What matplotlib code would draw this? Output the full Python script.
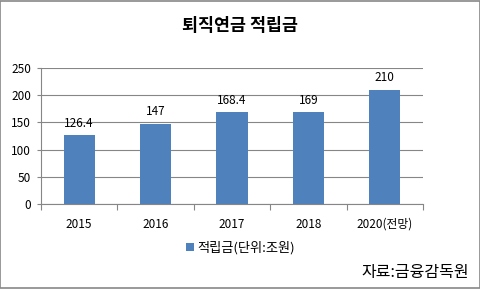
import numpy as np
import matplotlib.pyplot as plt
from matplotlib.patches import Rectangle

plt.rcParams['font.family'] = ['Noto Sans CJK KR', 'DejaVu Sans']

# Data
categories = ['2015', '2016', '2017', '2018', '2020(전망)']
values = [126.4, 147, 168.4, 169, 210]
value_labels = ['126.4', '147', '168.4', '169', '210']

fig = plt.figure(figsize=(4.81, 2.89), dpi=100)
ax = fig.add_axes([0.0852, 0.2941, 0.7942, 0.4706])

x = np.arange(len(categories))
bars = ax.bar(x, values, width=0.41, color='#4F81BD', label='적립금(단위:조원)', zorder=3)

# Value labels above bars
for xi, v, lab in zip(x, values, value_labels):
    ax.annotate(lab, (xi, v), xytext=(0, 4), textcoords='offset points',
                ha='center', va='bottom', fontsize=8.5)

ax.set_xlim(-0.5, len(categories) - 0.5)
ax.set_ylim(0, 250)
ax.set_yticks(np.arange(0, 251, 50))
ax.yaxis.grid(True, color='#868686', linewidth=0.8, zorder=0)

# Excel style ticks between categories
ax.set_xticks(np.arange(-0.5, len(categories)), minor=False)
ax.set_xticklabels([])
ax.set_xticks(x, minor=True)
ax.set_xticklabels(categories, minor=True, fontsize=8.5)
ax.tick_params(axis='x', which='major', length=4, color='#868686', direction='out')
ax.tick_params(axis='x', which='minor', length=0, pad=10)
ax.tick_params(axis='y', length=3, color='#868686', labelsize=8.5, pad=4)

for side in ['top', 'right']:
    ax.spines[side].set_visible(False)
ax.spines['left'].set_color('#868686')
ax.spines['bottom'].set_color('#868686')

fig.text(0.5, 0.91, '퇴직연금 적립금', ha='center', va='center', fontsize=12.5, fontweight='bold')

fig.legend(handles=[bars], labels=['적립금(단위:조원)'], loc='center', bbox_to_anchor=(0.5, 0.142),
           frameon=False, fontsize=9.5, handlelength=0.6, handleheight=0.6, handletextpad=0.3)

fig.text(0.975, 0.058, '자료:금융감독원', ha='right', va='center', fontsize=11.5)

fig.patches.append(Rectangle((0.001, 0.002), 0.997, 0.995, transform=fig.transFigure,
                             fill=False, edgecolor='#888888', linewidth=1.2))

fig.savefig('out.png', dpi=100)
